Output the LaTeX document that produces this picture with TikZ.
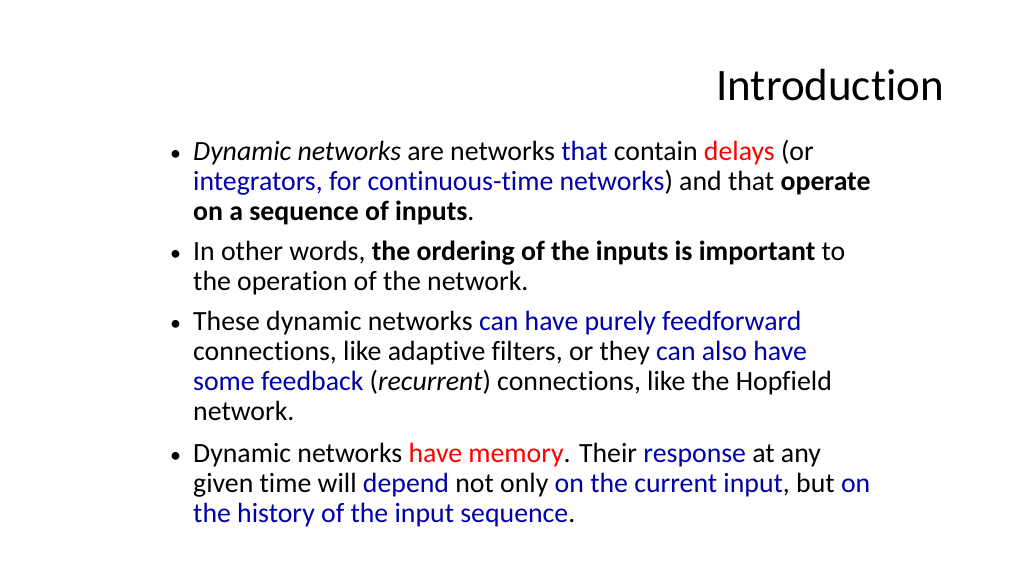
\documentclass[tikz,border=0pt]{standalone}
\usepackage{fontspec}
\setmainfont[RawFeature=-liga]{Carlito}
\definecolor{bl}{RGB}{0,0,170}
\definecolor{rd}{RGB}{255,0,0}
\newcommand{\B}[1]{\textcolor{bl}{#1}}
\newcommand{\R}[1]{\textcolor{rd}{#1}}
\begin{document}
\begin{tikzpicture}[x=1pt,y=-1pt,
  ln/.style={anchor=base west,inner sep=0pt,font=\fontsize{27.8}{32}\selectfont},
  bul/.style={anchor=base west,inner sep=0pt,font=\fontsize{22}{28}\selectfont}]
\useasboundingbox (0,0) rectangle (1024,576);
\node[anchor=base east,inner sep=0pt,font=\fontsize{45}{52}\selectfont] (title) at (944,100) {Introduction};
\foreach \y/\n in {160/b1,260/b2,330/b3,462/b4} \node[bul] (\n) at (170,\y) {•};
\node[ln] (l1) at (193,160) {\textit{Dynamic networks} are networks \B{that} contain \R{delays} (or};
\node[ln] (l2) at (193,190) {\B{integrators, for continuous-time networks}) and that \textbf{operate}};
\node[ln] (l3) at (193,220) {\textbf{on a sequence of inputs}.};
\node[ln] (l4) at (193,260) {In other words, \textbf{the ordering of the inputs is important} to};
\node[ln] (l5) at (193,290) {the operation of the network.};
\node[ln] (l6) at (193,330) {These dynamic networks \B{can have purely feedforward}};
\node[ln] (l7) at (193,360) {connections, like adaptive filters, or they \B{can also have}};
\node[ln] (l8) at (193,390) {\B{some feedback} (\textit{recurrent}) connections, like the Hopfield};
\node[ln] (l9) at (193,420) {network.};
\node[ln] (l10) at (193,462) {Dynamic networks \R{have memory}. Their \B{response} at any};
\node[ln] (l11) at (193,492) {given time will \B{depend} not only \B{on the current input}, but \B{on}};
\node[ln] (l12) at (193,522) {\B{the history of the input sequence}.};
\end{tikzpicture}
\end{document}
